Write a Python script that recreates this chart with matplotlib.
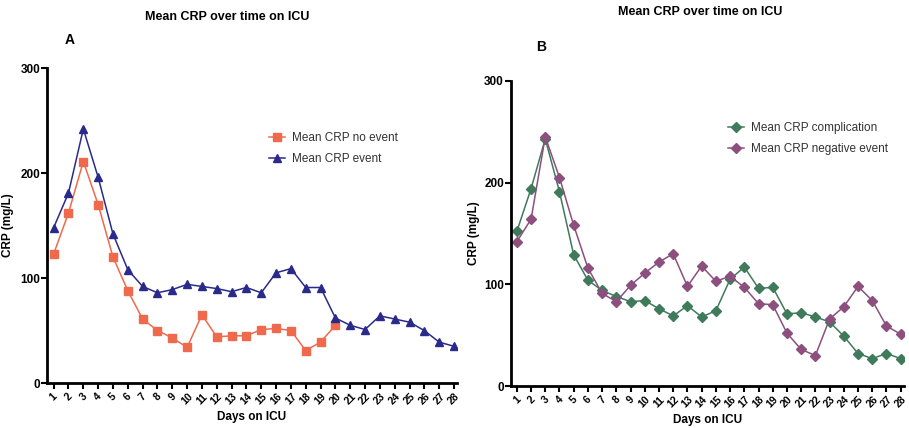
#!/usr/bin/env python3
"""
Mean CRP over time on ICU - two panel line chart
"""

import matplotlib
matplotlib.use('Agg')
import matplotlib.pyplot as plt

plt.rcParams['font.family'] = ['Liberation Sans', 'DejaVu Sans']

# Data
days = list(range(1, 29))

crp_no_event = [123, 162, 211, 170, 120, 88, 61, 50, 43, 34,
                65, 44, 45, 45, 51, 52, 50, 31, 39, 55]
crp_event = [148, 181, 242, 196, 142, 108, 92, 86, 89, 94,
             92, 90, 87, 91, 86, 105, 109, 91, 91, 62,
             55, 51, 64, 61, 58, 50, 39, 35]

crp_complication = [152, 194, 243, 191, 129, 104, 94, 88, 83, 84,
                    76, 69, 79, 68, 74, 105, 117, 96, 97, 71,
                    72, 68, 63, 49, 32, 27, 32, 27]
crp_negative = [142, 164, 245, 205, 158, 116, 91, 83, 99, 111,
                122, 130, 98, 118, 103, 108, 97, 81, 80, 52,
                36, 30, 66, 78, 98, 84, 59, 51]

ORANGE = '#EF6A4C'
NAVY = '#2A2A8A'
GREEN = '#3F7A5B'
PURPLE = '#8C4F7E'


def style_axes(ax, xlim, ylab_x):
    for side in ('top', 'right'):
        ax.spines[side].set_visible(False)
    for side in ('left', 'bottom'):
        ax.spines[side].set_linewidth(2.0)
    ax.set_ylim(0, 300)
    ax.set_xlim(*xlim)
    ax.set_yticks([0, 100, 200, 300])
    ax.set_xticks(days)
    ax.set_xticklabels([str(d) for d in days], rotation=45, ha='center',
                       va='top', fontsize=7.5, fontweight='bold')
    ax.tick_params(axis='x', length=4, width=1.5, pad=2)
    ax.tick_params(axis='y', length=4, width=1.5, labelsize=8.5, pad=1)
    for lab in ax.get_yticklabels():
        lab.set_fontweight('bold')
    ax.set_xlabel('Days on ICU', fontsize=8.5, fontweight='bold', labelpad=3)
    ax.set_ylabel('CRP (mg/L)', fontsize=8.5, fontweight='bold')
    ax.yaxis.set_label_coords(ylab_x, 0.5)


fig = plt.figure(figsize=(9.09, 4.28), dpi=100)

legend_kw = dict(loc='upper left', frameon=False, fontsize=8.5,
                 handlelength=1.4, handletextpad=0.6, labelspacing=0.75,
                 labelcolor='#333333')

# Panel A
ax1 = fig.add_axes([0.0517, 0.105, 0.451, 0.736])
ax1.plot(days[:len(crp_no_event)], crp_no_event, color=ORANGE, marker='s',
         markersize=5.5, linewidth=1.1, label='Mean CRP no event')
ax1.plot(days, crp_event, color=NAVY, marker='^', markersize=6,
         linewidth=1.1, label='Mean CRP event')
style_axes(ax1, (0.55, 28.2), -0.08)
ax1.legend(bbox_to_anchor=(0.515, 0.83), **legend_kw)

# Panel B
ax2 = fig.add_axes([0.562, 0.098, 0.432, 0.713])
ax2.plot(days, crp_complication, color=GREEN, marker='D', markersize=5,
         linewidth=1.1, label='Mean CRP complication')
ax2.plot(days, crp_negative, color=PURPLE, marker='D', markersize=5,
         linewidth=1.1, label='Mean CRP negative event')
style_axes(ax2, (0.58, 28.2), -0.079)
ax2.legend(bbox_to_anchor=(0.525, 0.9), **legend_kw)

# Titles and panel letters
fig.text(227 / 909, 1 - 17 / 428, 'Mean CRP over time on ICU', ha='center',
         va='center', fontsize=9, fontweight='bold')
fig.text(700 / 909, 1 - 12 / 428, 'Mean CRP over time on ICU', ha='center',
         va='center', fontsize=9, fontweight='bold')
fig.text(70 / 909, 1 - 40 / 428, 'A', ha='center', va='center',
         fontsize=10, fontweight='bold')
fig.text(541 / 909, 1 - 47 / 428, 'B', ha='center', va='center',
         fontsize=10, fontweight='bold')

plt.savefig('out.png', dpi=100, facecolor='white')
